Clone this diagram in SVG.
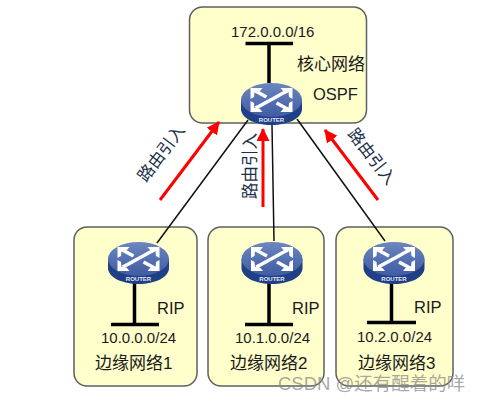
<svg xmlns="http://www.w3.org/2000/svg" xmlns:xlink="http://www.w3.org/1999/xlink" width="484" height="401" viewBox="0 0 484 401">
<style>
text{font-family:"Liberation Sans","Noto Sans CJK SC",sans-serif;font-size:15px;fill:#1a1a1a}
.cn{font-size:17px}
.big{font-size:16.500px}
.box{fill:#ffffcc;stroke:#5f5f5f;stroke-width:1.5}
.bus{stroke:#000;stroke-width:3.5;fill:none}
.link{stroke:#111;stroke-width:1.5;fill:none}
.red{stroke:#f00;stroke-width:3;fill:none;marker-end:url(#ah)}
.lab{fill:#1c2f4a;font-size:16.5px}
.wm{fill:#8a8a8a;fill-opacity:.75;font-size:18.500px}
.ic{fill:none;stroke:#fff;stroke-width:3.5}
.hd{fill:#fff}
</style>
<defs>
<linearGradient id="top" x1="0" y1="0" x2="0" y2="1"><stop offset="0" stop-color="#6d86bf"/><stop offset="1" stop-color="#3f5ca3"/></linearGradient>
<marker id="ah" markerUnits="userSpaceOnUse" markerWidth="14" markerHeight="14" refX="12" refY="6.500" orient="auto"><path d="M0 0L13 6.500L0 13z" fill="#f00"/></marker>
<g id="router">
<path d="M-30.500 -4V5C-30.500 14 -17 21 0 21S30.500 14 30.500 5V-4z" fill="#1f3f86"/>
<ellipse cx="0" cy="-4" rx="30.500" ry="17" fill="url(#top)"/>
<path class="ic" d="M-17 -13.500L-5 -7"/>
<path class="ic" d="M17 5.500L5 -1"/>
<path class="ic" d="M-16 4C-9 1 -5 -2 0 -4.500C5 -7 9 -10 16 -13"/>
<path class="hd" d="M-21 -16H-9L-12 -12.500L-17 -12L-17.500 -7L-21 -5z"/>
<path class="hd" d="M21 -16H9L12 -12.500L17 -12L17.500 -7L21 -5z"/>
<path class="hd" d="M-21 8H-9L-12 4.500L-17 4L-17.500 -1L-21 -3z"/>
<path class="hd" d="M21 8H9L12 4.500L17 4L17.500 -1L21 -3z"/>
<text x="0" y="18" text-anchor="middle" style="font-size:6px;font-weight:bold;fill:#e8edf7">ROUTER</text>
</g>
</defs>
<g id="core-network">
<rect class="box" x="189.500" y="7" width="177" height="116" rx="13"/>
<text x="231" y="37">172.0.0.0/16</text>
<text class="cn" x="297" y="70">核心网络</text>
<text class="big" x="313" y="100">OSPF</text>
</g>
<g id="edge-network-1">
<rect class="box" x="74" y="227" width="123" height="159" rx="13"/>
<text x="101" y="343">10.0.0.0/24</text>
<text class="cn" x="95" y="369">边缘网络1</text>
<text class="big" x="157" y="314">RIP</text>
</g>
<g id="edge-network-2">
<rect class="box" x="208" y="227" width="116" height="159" rx="13"/>
<text x="235" y="343">10.1.0.0/24</text>
<text class="cn" x="230" y="369">边缘网络2</text>
<text class="big" x="292" y="314">RIP</text>
</g>
<g id="edge-network-3">
<rect class="box" x="336" y="227" width="117" height="159" rx="13"/>
<text x="357" y="342">10.2.0.0/24</text>
<text class="cn" x="358" y="369">边缘网络3</text>
<text class="big" x="414" y="313">RIP</text>
</g>
<g id="connectors">
<path class="bus" d="M245.500 43.500H293M269 43.500V83"/>
<path class="bus" d="M111 324.500H159M134.500 324.500V283"/>
<path class="bus" d="M245 324.500H293M269 324.500V283"/>
<path class="bus" d="M367 322.500H416M391.500 322.500V283"/>
<path class="link" d="M248 120L157 243"/>
<path class="link" d="M272 125L274 241"/>
<path class="link" d="M297 119L385 241"/>
<path class="red" d="M160 200L219 122"/>
<path class="red" d="M263 207V129"/>
<path class="red" d="M378 200L325 130"/>
</g>
<g id="router-core"><use href="#router" xlink:href="#router" x="271.500" y="104"/></g>
<g id="router-1"><use href="#router" xlink:href="#router" x="138.500" y="263"/></g>
<g id="router-2"><use href="#router" xlink:href="#router" x="272" y="263"/></g>
<g id="router-3"><use href="#router" xlink:href="#router" x="394" y="263"/></g>
<g id="labels">
<text class="lab" transform="translate(146 183) rotate(-53)">路由引入</text>
<text class="lab" transform="translate(256 199) rotate(-90)">路由引入</text>
<text class="lab" transform="translate(347 134) rotate(52)">路由引入</text>
</g>
<g id="watermark">
<text class="wm" x="278" y="390">CSDN @还有醒着的咩</text>
</g>
</svg>
